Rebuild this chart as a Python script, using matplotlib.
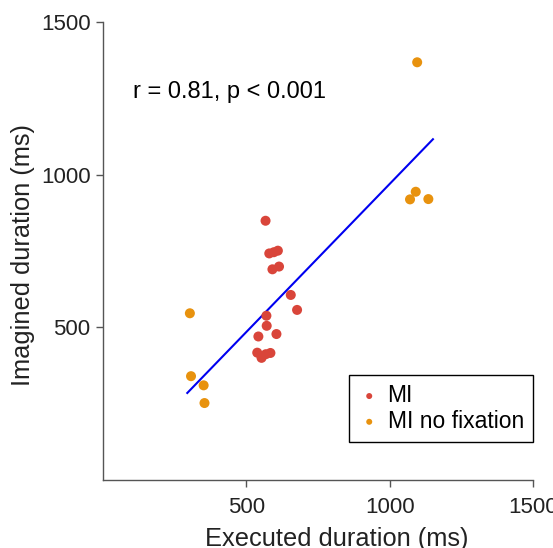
import numpy as np
import matplotlib
matplotlib.use('Agg')
import matplotlib.pyplot as plt

plt.rcParams['font.family'] = ['Liberation Sans', 'DejaVu Sans']

# MI condition
mi_exec = [567, 580, 596, 610, 591, 614, 655, 677, 570, 571, 542, 605, 538, 553, 568, 584]
mi_imag = [849, 742, 746, 751, 690, 699, 606, 557, 538, 505, 470, 478, 417, 400, 412, 416]

# MI no fixation condition
nofix_exec = [303, 307, 351, 354, 1096, 1091, 1071, 1135]
nofix_imag = [546, 340, 310, 252, 1368, 944, 919, 920]

# regression line as shown in the figure (end points)
fit_exec = [294, 1151]
fit_imag = [285, 1116]

stat_text = 'r = 0.81, p < 0.001'

red = '#D9453A'
orange = '#E8920E'
grey = '#555555'


def main():
    fig = plt.figure(figsize=(5.53, 5.48), dpi=100)
    ax = fig.add_axes([0.1863, 0.1241, 0.7775, 0.8358])

    ax.scatter(mi_exec, mi_imag, s=52, color=red, edgecolors='none', label='MI', zorder=3)
    ax.scatter(nofix_exec, nofix_imag, s=52, color=orange, edgecolors='none',
               label='MI no fixation', zorder=3)
    ax.plot(fit_exec, fit_imag, color='#0000F0', lw=1.5, zorder=2)

    ax.text(105, 1271, stat_text, fontsize=17, va='center', ha='left')

    ax.set_xlim(0, 1500)
    ax.set_ylim(0, 1500)
    ax.set_xticks([500, 1000, 1500])
    ax.set_yticks([500, 1000, 1500])
    ax.set_xlabel('Executed duration (ms)', fontsize=18.3, color='#222222', va='baseline')
    ax.xaxis.set_label_coords(0.543, -0.144)
    ax.set_ylabel('Imagined duration (ms)', fontsize=18.3, color='#222222')
    ax.yaxis.set_label_coords(-0.158, 0.491)

    for side in ['top', 'right']:
        ax.spines[side].set_visible(False)
    for side in ['left', 'bottom']:
        ax.spines[side].set_color(grey)
        ax.spines[side].set_linewidth(1.0)
    ax.tick_params(direction='out', length=5, width=1.0, color=grey,
                   labelsize=16, labelcolor='#222222')
    ax.tick_params(axis='x', pad=7)
    ax.tick_params(axis='y', pad=4)

    leg = ax.legend(loc='lower right', bbox_to_anchor=(1.0, 0.083), borderaxespad=0,
                    fontsize=16.5, fancybox=False, framealpha=1, edgecolor='black',
                    markerscale=0.6, handletextpad=0.3, handlelength=1.0,
                    labelspacing=0.12, borderpad=0.4)
    leg.get_frame().set_linewidth(1.0)

    fig.savefig('out.png', dpi=100)


if __name__ == '__main__':
    main()
